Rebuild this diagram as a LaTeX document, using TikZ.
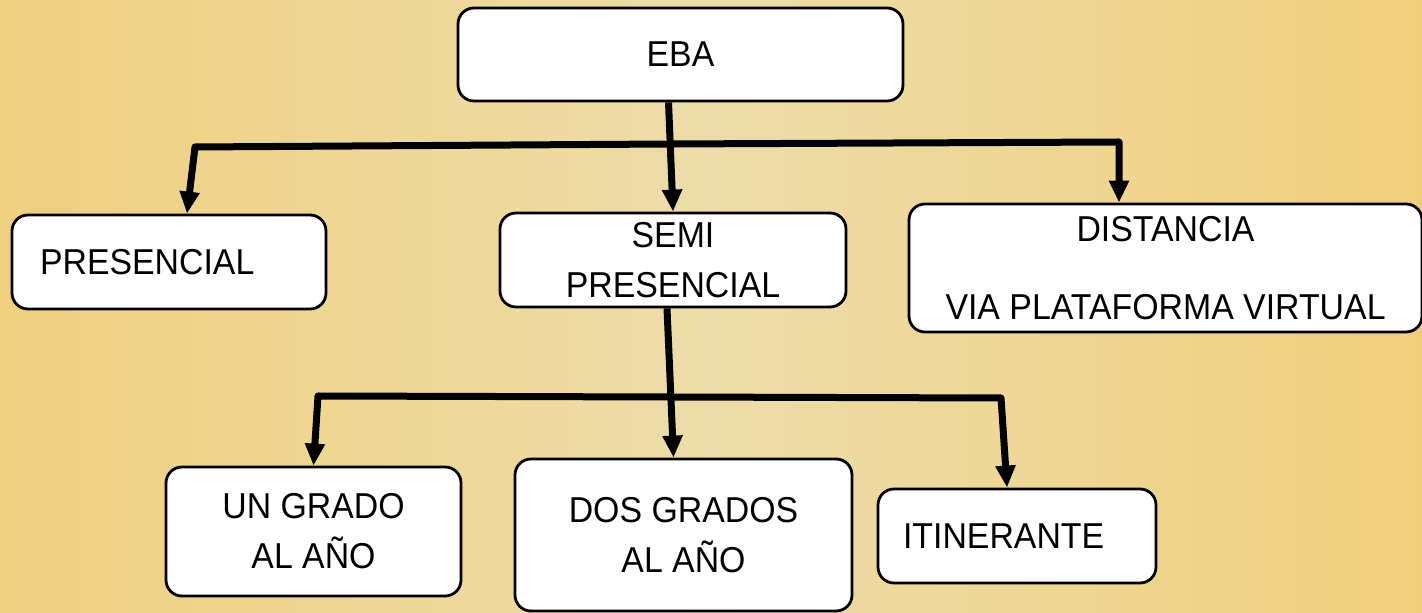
\documentclass[tikz,border=0pt]{standalone}
\usepackage{fontspec}
\setmainfont{Liberation Sans}[FakeStretch=0.94]
\usepackage{tikz}
\usetikzlibrary{shapes,arrows.meta}
\definecolor{bgedge}{RGB}{240,208,128}
\definecolor{bgmid}{RGB}{237,221,170}
\definecolor{bgright}{RGB}{240,207,124}
\tikzstyle{box} = [draw, fill=white, line width=1.4pt, rounded corners=8pt, inner sep=0pt, align=center, font=\fontsize{18}{25}\selectfont]
\tikzstyle{link} = [draw, line width=3.5pt, line join=round, -{Triangle[length=11pt,width=9.5pt]}]

\begin{document}
\begin{tikzpicture}[x=0.5pt,y=-0.5pt]

      \useasboundingbox (0,0) rectangle (1422,613);
      \shade [left color=bgedge, right color=bgright, middle color=bgmid] (0,0) rectangle (1422,613);

	  \node[box, minimum width=222.5pt, minimum height=46.5pt] (eba) at (680.5,54.5) {EBA};

	  \node[box, minimum height=47pt, text width=129pt, inner xsep=14pt, align=left] (pres) at (169,262) {PRESENCIAL};
	  \node[box, minimum width=173pt, minimum height=47pt] (semi) at (673,260) {SEMI\\PRESENCIAL};
	  \node[box, minimum width=256.5pt, minimum height=64pt] (dist) at (1165.5,268) {DISTANCIA\\[14pt]VIA PLATAFORMA VIRTUAL};

	  \node[box, minimum width=147.5pt, minimum height=64.5pt] (ungrado) at (313.5,531.5) {UN GRADO\\AL AÑO};
	  \node[box, minimum width=168.5pt, minimum height=76pt] (dosgrados) at (683.5,535) {DOS GRADOS\\AL AÑO};
	  \node[box, minimum height=47pt, text width=114pt, inner xsep=12.5pt, align=left] (itin) at (1017,536) {ITINERANTE};

	  \coordinate (bar1l) at (195,147);
	  \coordinate (bar1m) at (670,144);
	  \coordinate (bar1r) at (1119,142);

	  \coordinate (bar2l) at (318,396);
	  \coordinate (bar2m) at (670,397);
	  \coordinate (bar2r) at (1001,398);

	  \draw [link] ([xshift=-6pt]eba.south) -- (semi.north);
	  \draw [link] (bar1m) -- (bar1l) -- ([xshift=9pt]pres.north);
	  \draw [link] (bar1m) -- (bar1r) -- (dist.north -| bar1r);

	  \draw [link] ([xshift=-3pt]semi.south) -- ([xshift=-5pt]dosgrados.north);
	  \draw [link] (bar2m) -- (bar2l) -- (ungrado.north);
	  \draw [link] (bar2m) -- (bar2r) -- ([xshift=-5pt]itin.north);

    \end{tikzpicture}
\end{document}
